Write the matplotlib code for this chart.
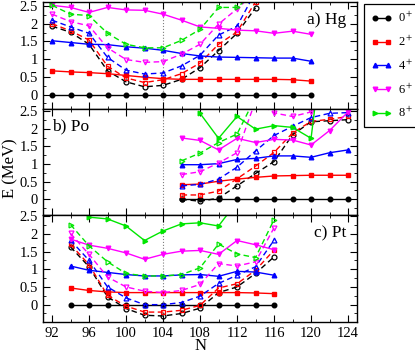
import numpy as np
import matplotlib
matplotlib.use('Agg')
import matplotlib.pyplot as plt
from matplotlib.ticker import MultipleLocator, FuncFormatter
from matplotlib.lines import Line2D

plt.rcParams['font.family'] = ['Liberation Serif', 'DejaVu Serif']
plt.rcParams['mathtext.fontset'] = 'stix'

nan = np.nan

# a) Hg
n_hg = [92, 94, 96, 98, 100, 102, 104, 106, 108, 110, 112, 114, 116, 118, 120]
hg_0 = [0, 0, 0, 0, 0, 0, 0, 0, 0, 0, 0, 0, 0, 0, 0]
hg_2 = [0.67, 0.64, 0.62, 0.59, 0.54, 0.49, 0.45, 0.43, 0.43, 0.43, 0.43, 0.43, 0.43, 0.42, 0.38]
hg_4 = [1.52, 1.47, 1.42, 1.41, 1.35, 1.31, 1.25, 1.16, 1.09, 1.06, 1.05, 1.04, 1.03, 1.03, 0.94]
hg_6 = [2.52, 2.46, 2.32, 2.46, 2.39, 2.38, 2.27, 2.10, 1.91, 1.87, 1.82, 1.80, 1.73, 1.79, 1.70]
hg_8 = [nan] * 15

n_hg_d = [92, 94, 96, 98, 100, 102, 104, 106, 108, 110, 112, 114]
hg_0d = [1.93, 1.76, 1.42, 0.67, 0.36, 0.22, 0.26, 0.43, 0.76, 1.24, 1.73, 2.45]
hg_2d = [2.00, 1.80, 1.54, 0.80, 0.47, 0.34, 0.42, 0.59, 0.89, 1.42, 1.77, 2.62]
hg_4d = [2.10, 1.91, 1.73, 1.05, 0.69, 0.58, 0.61, 0.81, 1.11, 1.68, 1.93, 2.90]
hg_6d = [2.27, 2.06, 1.94, 1.32, 0.99, 0.91, 0.93, 1.14, 1.42, 1.99, 2.42, 2.90]
hg_8d = [2.52, 2.27, 2.23, 1.73, 1.42, 1.32, 1.32, 1.53, 1.84, 2.46, 2.46, 2.90]

# b) Po
n_po = [106, 108, 110, 112, 114, 116, 118, 120, 122, 124]
po_0 = [0, 0, 0, 0, 0, 0, 0, 0, 0, 0]
po_2 = [0.41, 0.43, 0.51, 0.57, 0.62, 0.66, 0.67, 0.68, 0.68, 0.68]
po_4 = [0.98, 0.98, 1.01, 1.13, 1.16, 1.23, 1.23, 1.19, 1.32, 1.40]
po_6 = [1.74, 1.67, 1.40, 1.73, 1.61, 1.70, 1.68, 1.54, 1.95, 2.48]
po_8 = [nan, 2.44, 1.73, 2.35, 1.99, 2.09, 2.04, 1.73, 6.0, nan]

po_0d = [0.00, -0.06, 0.03, 0.38, 0.73, 1.07, 1.83, 2.20, 2.23, 2.26]
po_2d = [0.12, 0.12, 0.23, 0.58, 0.94, 1.33, 1.88, 2.21, 2.27, 2.35]
po_4d = [0.38, 0.42, 0.57, 0.91, 1.37, 1.81, 2.07, 2.32, 2.44, 2.46]
po_6d = [0.70, 0.78, 1.03, 1.32, 2.80, 2.45, 2.35, 2.48, 2.80, nan]
po_8d = [1.09, 1.31, 1.61, 1.85, 2.90, nan, nan, nan, nan, nan]

# c) Pt
n_pt = [94, 96, 98, 100, 102, 104, 106, 108, 110, 112, 114, 116]
pt_0 = [0, 0, 0, 0, 0, 0, 0, 0, 0, 0, 0, 0]
pt_2 = [0.47, 0.40, 0.36, 0.34, 0.34, 0.34, 0.34, 0.34, 0.34, 0.34, 0.33, 0.31]
pt_4 = [1.09, 0.97, 0.91, 0.85, 0.81, 0.81, 0.84, 0.85, 0.80, 0.94, 0.92, 0.83]
pt_6 = [1.85, 1.68, 1.59, 1.46, 1.28, 1.42, 1.51, 1.53, 1.42, 1.81, 1.69, 1.55]
pt_8 = [nan, 2.47, 2.42, 2.22, 1.81, 2.08, 2.28, 2.31, 2.22, 2.90, nan, nan]

pt_0d = [1.63, 1.07, 0.22, -0.11, -0.30, -0.32, -0.25, -0.10, 0.34, 0.50, 0.88, 1.35]
pt_2d = [1.70, 1.13, 0.26, -0.04, -0.21, -0.21, -0.16, -0.02, 0.47, 0.59, 0.97, 1.54]
pt_4d = [1.82, 1.25, 0.50, 0.19, 0.00, 0.00, 0.06, 0.24, 0.60, 0.83, 1.07, 1.82]
pt_6d = [2.01, 1.42, 0.78, 0.50, 0.38, 0.34, 0.40, 0.57, 1.16, 1.09, 1.21, 2.17]
pt_8d = [2.26, 1.66, 1.21, 0.88, 0.81, 0.81, 0.85, 1.04, 1.71, 1.43, 1.33, 2.40]

labels = ['0$^+$', '2$^+$', '4$^+$', '6$^+$', '8$^+$']
colors = ['black', '#ff0000', '#0000ff', '#ff00ff', '#00e600']
markers = ['o', 's', '^', 'v', '>']

panels = [
    ('a) Hg', n_hg, [hg_0, hg_2, hg_4, hg_6, hg_8], n_hg_d, [hg_0d, hg_2d, hg_4d, hg_6d, hg_8d], (-0.40, 2.61), 'right'),
    ('b) Po', n_po, [po_0, po_2, po_4, po_6, po_8], n_po, [po_0d, po_2d, po_4d, po_6d, po_8d], (-0.46, 2.57), 'left'),
    ('c) Pt', n_pt, [pt_0, pt_2, pt_4, pt_6, pt_8], n_pt, [pt_0d, pt_2d, pt_4d, pt_6d, pt_8d], (-0.49, 2.52), 'right'),
]

fig, axes = plt.subplots(3, 1, figsize=(4.15, 3.54), dpi=100, sharex=True)
fig.subplots_adjust(left=0.103, right=0.861, top=0.994, bottom=0.0904, hspace=0)

for ax, (name, n_sol, sols, n_dash, dashes, ylim, side) in zip(axes, panels):
    ax.axvline(104, color='grey', ls=':', lw=0.8, zorder=0)
    for k in range(5):
        # other model, dashed with open symbols
        ax.plot(n_dash, dashes[k], ls='--', dashes=(4, 2.5), color=colors[k], lw=1.0,
                marker=markers[k], ms=3.5, mfc='none', mew=0.9)
        ax.plot(n_sol, sols[k], ls='-', color=colors[k], lw=1.0,
                marker=markers[k], ms=3.3)

    ax.set_xlim(91, 125)
    ax.set_ylim(*ylim)
    ax.xaxis.set_major_locator(MultipleLocator(4))
    ax.xaxis.set_minor_locator(MultipleLocator(2))
    ax.yaxis.set_major_locator(MultipleLocator(0.5))
    ax.yaxis.set_minor_locator(MultipleLocator(0.25))
    ax.yaxis.set_major_formatter(FuncFormatter(lambda v, p: '%g' % v))
    ax.tick_params(which='both', direction='in', top=True, right=True, labelsize=10.5)
    ax.tick_params(which='major', length=5)
    ax.tick_params(which='minor', length=2.5)
    for s in ax.spines.values():
        s.set_linewidth(1.0)

    if side == 'right':
        ax.text(0.965, 0.905, name, transform=ax.transAxes, ha='right', va='top', fontsize=12.5)
    else:
        ax.text(0.03, 0.905, name, transform=ax.transAxes, ha='left', va='top', fontsize=12.5)

axes[2].set_xlabel('N', fontsize=12, labelpad=-1)
fig.text(0.024, 0.525, 'E (MeV)', rotation=90, ha='center', va='center', fontsize=12)

handles = [Line2D([], [], color=colors[k], marker=markers[k], ms=3.3, lw=1.0) for k in range(5)]
leg = fig.legend(handles, labels, loc='upper left', bbox_to_anchor=(364 / 415, 1 - 4 / 354),
                 numpoints=2, fontsize=9, frameon=True, fancybox=False, framealpha=1,
                 edgecolor='black', borderaxespad=0, handlelength=1.7, handletextpad=0.45,
                 labelspacing=0.75, borderpad=0.55)
leg.get_frame().set_linewidth(0.9)

fig.savefig('out.png', dpi=100)
